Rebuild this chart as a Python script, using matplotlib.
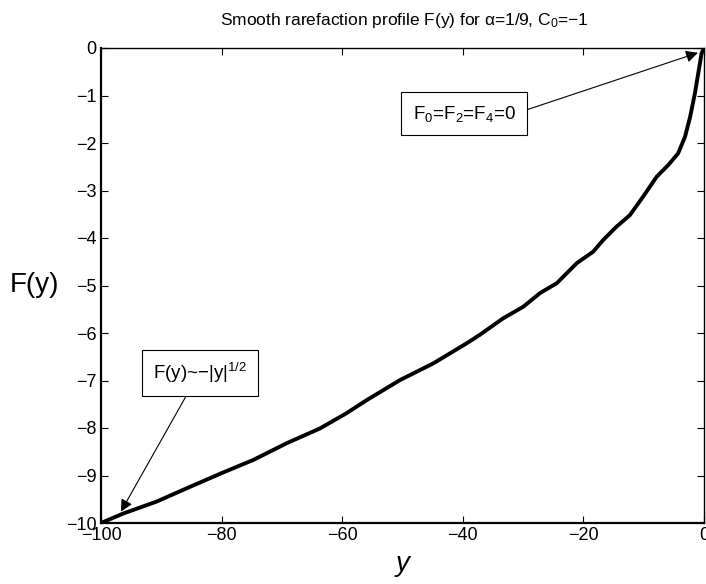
"""
plot.py
Smooth rarefaction profile F(y), redrawn in the old MATLAB look.
"""

import matplotlib
matplotlib.use('Agg')
import matplotlib.pyplot as plt

# values
y_vals = [-100, -96.3, -90.8, -85.8, -80.0, -74.7, -69.2, -63.7, -59.3, -55.9,
          -50.4, -44.9, -39.4, -37.2, -33.3, -30.0, -27.2, -24.4, -21.1, -18.4,
          -16.7, -14.5, -12.3, -10.1, -7.85, -5.9, -4.3, -3.15, -2.3, -1.5,
          -0.95, -0.4, 0]
F_vals = [-10, -9.80, -9.55, -9.27, -8.95, -8.67, -8.32, -8.01, -7.69, -7.41,
          -6.99, -6.64, -6.22, -6.04, -5.69, -5.45, -5.16, -4.95, -4.53, -4.29,
          -4.04, -3.76, -3.52, -3.13, -2.71, -2.46, -2.22, -1.87, -1.45, -0.95,
          -0.53, -0.11, 0]

x_ticks = [-100, -80, -60, -40, -20, 0]
y_ticks = list(range(-10, 1))

plt.rcParams['font.family'] = ['Liberation Sans', 'DejaVu Sans']
plt.rcParams['mathtext.fontset'] = 'custom'
plt.rcParams['mathtext.rm'] = 'Liberation Sans'
plt.rcParams['mathtext.it'] = 'Liberation Sans:italic'
plt.rcParams['mathtext.sf'] = 'Liberation Sans'

fig = plt.figure(figsize=(7.06, 5.84), dpi=100)
ax = fig.add_axes([101 / 706, 61 / 584, 603 / 706, 475 / 584])

ax.plot(y_vals, F_vals, color='k', lw=2.8, solid_capstyle='round',
        solid_joinstyle='round')

ax.set_xlim(-100, 0)
ax.set_ylim(-10, 0)
ax.set_xticks(x_ticks)
ax.set_yticks(y_ticks)
ax.tick_params(direction='in', length=5, width=0.8, labelsize=13,
               top=True, right=True, pad=3)
for side in ['left', 'bottom']:
    ax.spines[side].set_linewidth(1.6)
for side in ['top', 'right']:
    ax.spines[side].set_linewidth(1.0)

ax.set_xlabel('y', fontsize=20, style='italic', labelpad=5)
ax.set_ylabel('F(y)', fontsize=20, rotation=0, labelpad=0)
ax.yaxis.set_label_coords(-0.11, 0.5)
ax.yaxis.label.set_ha('center')
ax.yaxis.label.set_va('center')

fig.text(404 / 706, 1 - 25 / 584,
         r'Smooth rarefaction profile F(y) for α=1/9, C$_0$=−1',
         ha='center', va='baseline', fontsize=12.5)

box = dict(boxstyle='square,pad=0.6', fc='white', ec='k', lw=0.8)

ax.annotate(r'F$_0$=F$_2$=F$_4$=0', xy=(-1.0, -0.1), xytext=(-39.8, -1.38),
            ha='center', va='center', fontsize=13.5, bbox=box,
            arrowprops=dict(arrowstyle='-|>', color='k', lw=0.8,
                            mutation_scale=18, relpos=(1, 0.5),
                            shrinkA=0, shrinkB=0))

ax.annotate(r'F(y)~−|y|$^{1/2}$', xy=(-96.7, -9.76), xytext=(-83.6, -6.84),
            ha='center', va='center', fontsize=13.5, bbox=box,
            arrowprops=dict(arrowstyle='-|>', color='k', lw=0.8,
                            mutation_scale=18, relpos=(0.42, 0),
                            shrinkA=0, shrinkB=0))

fig.savefig('out.png', dpi=100)
